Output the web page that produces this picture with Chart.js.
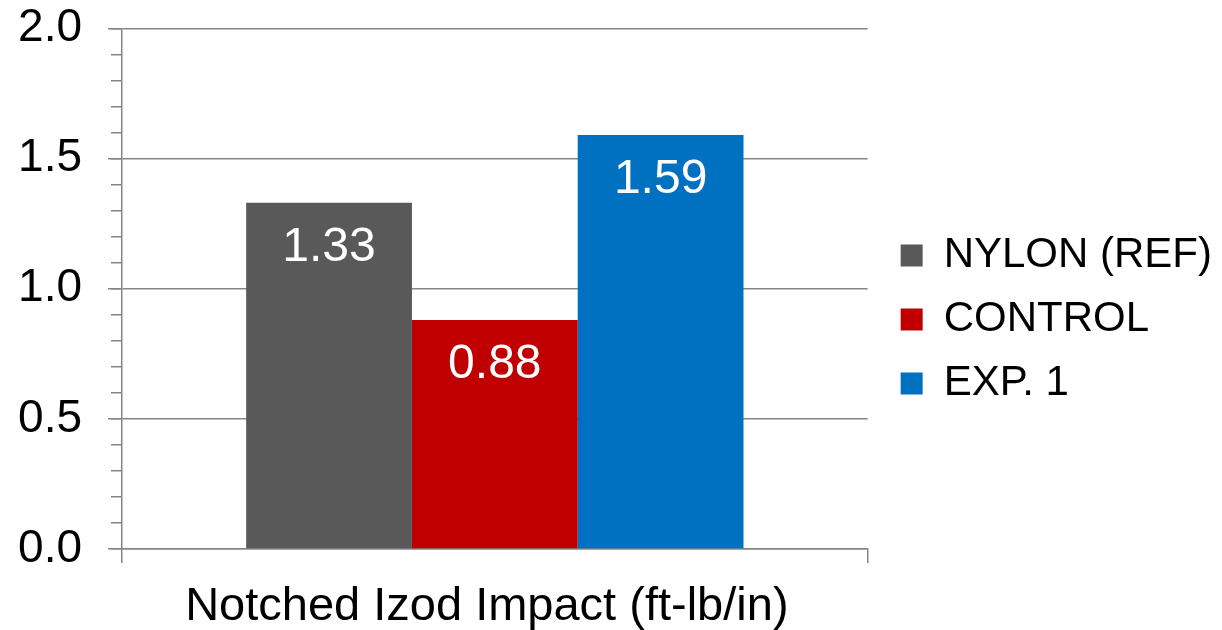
<!DOCTYPE html>
<html>
<head>
<meta charset="utf-8">
<script src="https://cdn.jsdelivr.net/npm/chart.js@4.4.1/dist/chart.umd.min.js"></script>
<style>
  html, body { margin: 0; padding: 0; background: #fff; }
  #wrap { width: 1222px; height: 630px; }
</style>
</head>
<body>
<div id="wrap"><canvas id="chart"></canvas></div>
<script>
// data
const categories = ["Notched Izod Impact (ft-lb/in)"];
const seriesNames = ["NYLON (REF)", "CONTROL", "EXP. 1"];
const nylonValues = [1.33];
const controlValues = [0.88];
const exp1Values = [1.59];
const yTickValues = [0.0, 0.5, 1.0, 1.5, 2.0];

const seriesValues = [nylonValues, controlValues, exp1Values];
const seriesColors = ["#595959", "#C00000", "#0070C0"];
const FONT = "'Liberation Sans', Arial, sans-serif";
const AXIS = "#858585";

// white value labels inside the top of each bar
const barValueLabels = {
    id: "barValueLabels",
    afterDatasetsDraw(chart) {
        const ctx = chart.ctx;
        ctx.save();
        ctx.fillStyle = "#ffffff";
        ctx.font = "48px " + FONT;
        ctx.textAlign = "center";
        ctx.textBaseline = "alphabetic";
        chart.data.datasets.forEach((ds, i) => {
            chart.getDatasetMeta(i).data.forEach((bar, j) => {
                ctx.fillText(ds.data[j].toFixed(2), bar.x, bar.y + 58);
            });
        });
        ctx.restore();
    }
};

new Chart(document.getElementById("chart"), {
    type: "bar",
    data: {
        labels: categories,
        datasets: seriesNames.map((name, i) => ({
            label: name,
            data: seriesValues[i],
            backgroundColor: seriesColors[i],
            borderWidth: 0,
            categoryPercentage: 0.667,
            barPercentage: 1.0
        }))
    },
    options: {
        responsive: true,
        maintainAspectRatio: false,
        animation: false,
        layout: { padding: { top: 9 } },
        plugins: {
            legend: {
                position: "right",
                maxWidth: 400,
                labels: {
                    boxWidth: 22,
                    boxHeight: 22,
                    padding: 22,
                    color: "#000",
                    font: { family: FONT, size: 42 }
                }
            },
            tooltip: { enabled: false }
        },
        scales: {
            x: {
                grid: { offset: true, drawOnChartArea: false, tickLength: 14, color: AXIS, lineWidth: 1.5 },
                border: { color: AXIS, width: 1.5 },
                ticks: {
                    color: "#000",
                    padding: 21,
                    labelOffset: -8,
                    font: { family: FONT, size: 47, lineHeight: 1 }
                },
                afterFit: s => { s.height = 81; }
            },
            y: {
                min: 0,
                max: 2,
                afterBuildTicks: s => { s.ticks = yTickValues.map(v => ({ value: v })); },
                grid: { color: AXIS, lineWidth: 1.5, tickLength: 14 },
                border: { color: AXIS, width: 1.5 },
                ticks: {
                    color: "#000",
                    padding: 26,
                    font: { family: FONT, size: 46, lineHeight: 0.1 },
                    callback: v => Number(v).toFixed(1)
                },
                afterFit: s => { s.width = 122; }
            },
            // minor tick marks every 0.1, drawn on the axis only
            yMinor: {
                position: "left",
                weight: -1,
                min: 0,
                max: 2,
                ticks: { stepSize: 0.1, display: false },
                grid: { drawOnChartArea: false, tickLength: 11, color: AXIS, lineWidth: 1.5 },
                border: { display: false },
                afterFit: s => { s.width = 0; }
            },
            // empty strip between plot and legend
            gap: {
                position: "right",
                ticks: { display: false },
                grid: { display: false },
                border: { display: false },
                afterFit: s => { s.width = 11; }
            }
        }
    },
    plugins: [barValueLabels]
});
</script>
</body>
</html>
